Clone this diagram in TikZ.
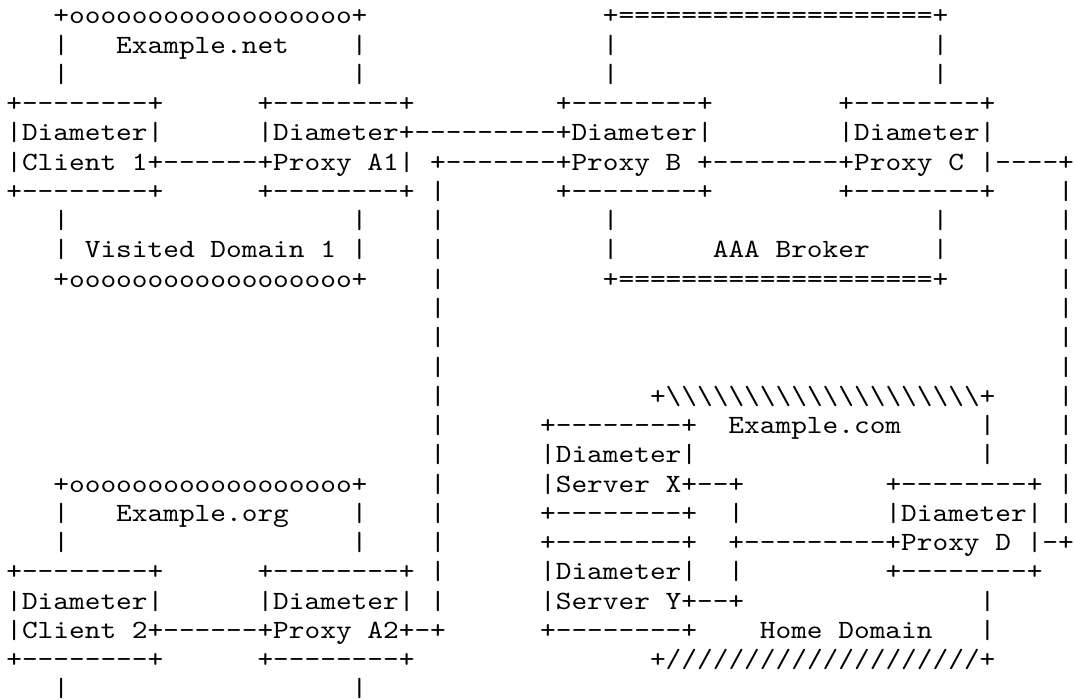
\documentclass[tikz,border=0pt]{standalone}
\usepackage{fontspec}
\usepackage{graphicx}
\newfontfamily\asciimono{lmmono10-regular}[Extension=.otf]
\ExplSyntaxOn
\NewDocumentCommand\chrun{mm}{\prg_replicate:nn{#1}{#2\kern0pt}}
\ExplSyntaxOff
% n blank character cells of the current monospaced font
\newcommand\gaps[1]{\hskip#1\fontcharwd\font`x\relax}
% one line of the figure, letters slightly flattened to typewriter proportions
\newcommand\asciiline[1]{\scalebox{1}[0.88]{#1}}
\frenchspacing
\tikzset{
  asciirow/.style={anchor=base west, inner sep=0pt, outer sep=0pt, text=black,
    font=\asciimono\fontsize{29.905pt}{29.25pt}\selectfont},
}
\newcommand\rowx{6.3}
\newcommand\rowy[1]{24+29.25*#1}
\begin{document}
\begin{tikzpicture}[x=1pt,y=-1pt]
\useasboundingbox (0,0) rectangle (1075,700);
\fill[white] (0,0) rectangle (1075,700);
\clip (0,0) rectangle (1075,700);
\node[asciirow] (r0)  at (\rowx,{\rowy{0}})  {\asciiline{\gaps{3}+\chrun{18}{o}+\gaps{15}+\chrun{20}{=}+}};
\node[asciirow] (r1)  at (\rowx,{\rowy{1}})  {\asciiline{\gaps{3}|\gaps{3}Example.net\gaps{4}|\gaps{15}|\gaps{20}|}};
\node[asciirow] (r2)  at (\rowx,{\rowy{2}})  {\asciiline{\gaps{3}|\gaps{18}|\gaps{15}|\gaps{20}|}};
\node[asciirow] (r3)  at (\rowx,{\rowy{3}})  {\asciiline{+\chrun{8}{-}+\gaps{6}+\chrun{8}{-}+\gaps{9}+\chrun{8}{-}+\gaps{8}+\chrun{8}{-}+}};
\node[asciirow] (r4)  at (\rowx,{\rowy{4}})  {\asciiline{|Diameter|\gaps{6}|Diameter+\chrun{9}{-}+Diameter|\gaps{8}|Diameter|}};
\node[asciirow] (r5)  at (\rowx,{\rowy{5}})  {\asciiline{|Client\gaps{1}1+\chrun{6}{-}+Proxy\gaps{1}A1|\gaps{1}+\chrun{7}{-}+Proxy\gaps{1}B\gaps{1}+\chrun{8}{-}+Proxy\gaps{1}C\gaps{1}|\chrun{4}{-}+}};
\node[asciirow] (r6)  at (\rowx,{\rowy{6}})  {\asciiline{+\chrun{8}{-}+\gaps{6}+\chrun{8}{-}+\gaps{1}|\gaps{7}+\chrun{8}{-}+\gaps{8}+\chrun{8}{-}+\gaps{4}|}};
\node[asciirow] (r7)  at (\rowx,{\rowy{7}})  {\asciiline{\gaps{3}|\gaps{18}|\gaps{4}|\gaps{10}|\gaps{20}|\gaps{7}|}};
\node[asciirow] (r8)  at (\rowx,{\rowy{8}})  {\asciiline{\gaps{3}|\gaps{1}Visited\gaps{1}Domain\gaps{1}1\gaps{1}|\gaps{4}|\gaps{10}|\gaps{6}AAA\gaps{1}Broker\gaps{4}|\gaps{7}|}};
\node[asciirow] (r9)  at (\rowx,{\rowy{9}})  {\asciiline{\gaps{3}+\chrun{18}{o}+\gaps{4}|\gaps{10}+\chrun{20}{=}+\gaps{7}|}};
\node[asciirow] (r10) at (\rowx,{\rowy{10}}) {\asciiline{\gaps{27}|\gaps{39}|}};
\node[asciirow] (r11) at (\rowx,{\rowy{11}}) {\asciiline{\gaps{27}|\gaps{39}|}};
\node[asciirow] (r12) at (\rowx,{\rowy{12}}) {\asciiline{\gaps{27}|\gaps{39}|}};
\node[asciirow] (r13) at (\rowx,{\rowy{13}}) {\asciiline{\gaps{27}|\gaps{13}+\chrun{20}{\textbackslash}+\gaps{4}|}};
\node[asciirow] (r14) at (\rowx,{\rowy{14}}) {\asciiline{\gaps{27}|\gaps{6}+\chrun{8}{-}+\gaps{2}Example.com\gaps{5}|\gaps{4}|}};
\node[asciirow] (r15) at (\rowx,{\rowy{15}}) {\asciiline{\gaps{27}|\gaps{6}|Diameter|\gaps{18}|\gaps{4}|}};
\node[asciirow] (r16) at (\rowx,{\rowy{16}}) {\asciiline{\gaps{3}+\chrun{18}{o}+\gaps{4}|\gaps{6}|Server\gaps{1}X+\chrun{2}{-}+\gaps{9}+\chrun{8}{-}+\gaps{1}|}};
\node[asciirow] (r17) at (\rowx,{\rowy{17}}) {\asciiline{\gaps{3}|\gaps{3}Example.org\gaps{4}|\gaps{4}|\gaps{6}+\chrun{8}{-}+\gaps{2}|\gaps{9}|Diameter|\gaps{1}|}};
\node[asciirow] (r18) at (\rowx,{\rowy{18}}) {\asciiline{\gaps{3}|\gaps{18}|\gaps{4}|\gaps{6}+\chrun{8}{-}+\gaps{2}+\chrun{9}{-}+Proxy\gaps{1}D\gaps{1}|-+}};
\node[asciirow] (r19) at (\rowx,{\rowy{19}}) {\asciiline{+\chrun{8}{-}+\gaps{6}+\chrun{8}{-}+\gaps{1}|\gaps{6}|Diameter|\gaps{2}|\gaps{9}+\chrun{8}{-}+}};
\node[asciirow] (r20) at (\rowx,{\rowy{20}}) {\asciiline{|Diameter|\gaps{6}|Diameter|\gaps{1}|\gaps{6}|Server\gaps{1}Y+\chrun{2}{-}+\gaps{15}|}};
\node[asciirow] (r21) at (\rowx,{\rowy{21}}) {\asciiline{|Client\gaps{1}2+\chrun{6}{-}+Proxy\gaps{1}A2+-+\gaps{6}+\chrun{8}{-}+\gaps{4}Home\gaps{1}Domain\gaps{3}|}};
\node[asciirow] (r22) at (\rowx,{\rowy{22}}) {\asciiline{+\chrun{8}{-}+\gaps{6}+\chrun{8}{-}+\gaps{15}+\chrun{20}{/}+}};
\node[asciirow] (r23) at (\rowx,{\rowy{23}}) {\asciiline{\gaps{3}|\gaps{18}|}};
\end{tikzpicture}
\end{document}
